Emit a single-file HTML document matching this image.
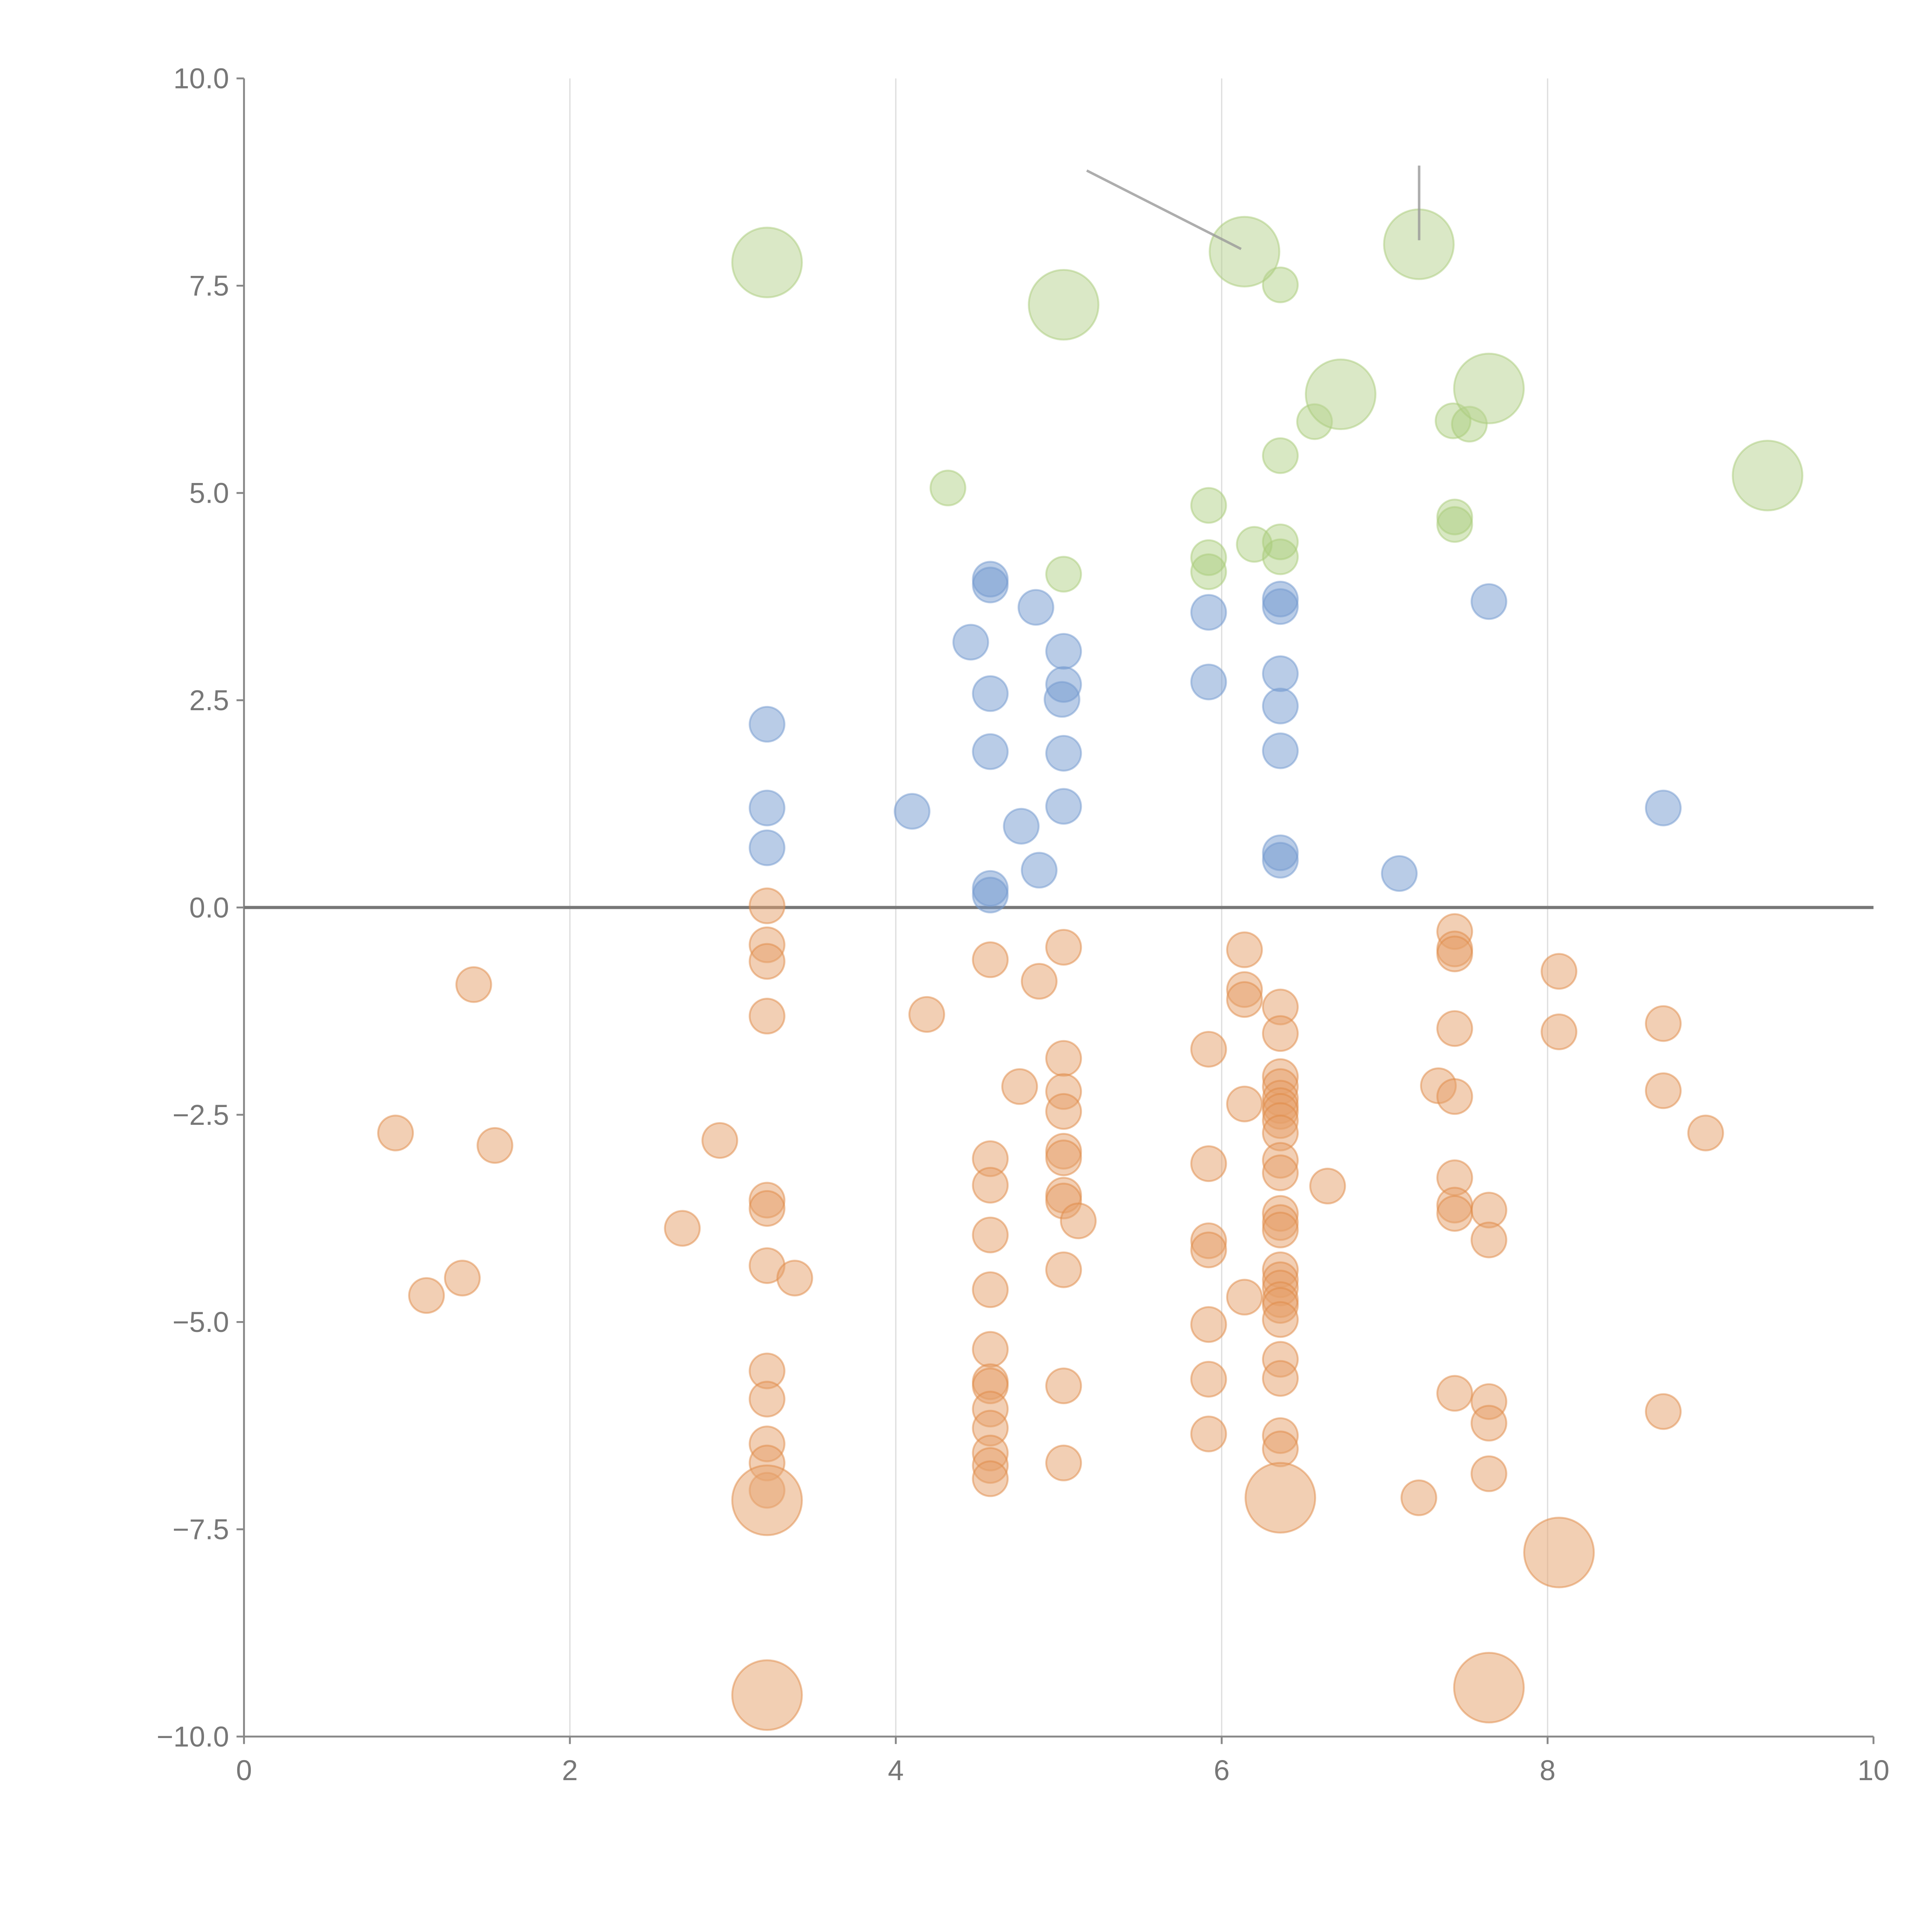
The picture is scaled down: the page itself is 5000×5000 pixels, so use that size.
<!DOCTYPE html>
<html><head><meta charset="utf-8"><style>
html,body{margin:0;padding:0;background:#fff}
svg{display:block}
text{font-family:"Liberation Sans",sans-serif;fill:#777}
</style></head><body>
<svg id="chart" width="5000" height="5000" viewBox="0 0 1552 1552" xmlns="http://www.w3.org/2000/svg">
<g id="grid"></g>
<g id="axes"></g>
<g id="marks"></g>
</svg>
<script>
const xTicks=[0,2,4,6,8,10];
const yTicks=[-10,-7.5,-5,-2.5,0,2.5,5,7.5,10];
const greenBigX=[3.21,5.03,6.14,7.21,6.73,7.64,9.35];
const greenBigY=[7.78,7.27,7.91,8.0,6.19,6.26,5.21];
const greenX=[6.36,6.57,7.42,7.52,6.36,4.32,5.92,7.43,7.43,6.2,6.36,6.36,5.92,5.92,5.03];
const greenY=[7.51,5.86,5.87,5.83,5.45,5.06,4.85,4.71,4.62,4.38,4.41,4.23,4.22,4.05,4.02];
const blueX=[4.58,4.58,4.86,4.46,5.03,5.03,5.02,4.58,4.58,5.03,5.03,4.77,4.88,4.58,4.58,4.1,3.21,3.21,3.21,5.92,5.92,6.36,6.36,6.36,6.36,6.36,6.36,6.36,7.09,7.64,8.71];
const blueY=[3.96,3.89,3.62,3.2,3.09,2.69,2.51,2.58,1.88,1.86,1.22,0.98,0.45,0.23,0.15,1.16,2.21,1.2,0.72,3.56,2.72,3.72,3.63,2.82,2.43,1.89,0.66,0.57,0.41,3.69,1.2];
const orangeX=[1.41,0.93,1.54,1.12,1.34,2.92,2.69,3.21,3.21,3.21,3.21,3.21,3.21,3.21,3.38,3.21,3.21,3.21,3.21,3.21,4.19,4.58,4.88,4.76,5.03,5.03,5.03,5.03,5.03,5.03,5.03,5.03,5.12,5.03,5.03,5.03,4.58,4.58,4.58,4.58,4.58,4.58,4.58,4.58,4.58,4.58,4.58,4.58,5.92,6.14,6.14,6.14,6.14,5.92,5.92,5.92,5.92,5.92,5.92,6.14,6.36,6.36,6.36,6.36,6.36,6.36,6.36,6.36,6.36,6.36,6.36,6.36,6.36,6.36,6.36,6.36,6.36,6.36,6.36,6.36,6.36,6.36,6.36,6.36,6.65,7.43,7.43,7.43,7.43,7.33,7.43,7.43,7.43,7.43,7.43,7.64,7.64,7.64,7.64,7.64,7.21,8.07,8.07,8.71,8.71,8.97,8.71];
const orangeY=[-0.93,-2.72,-2.87,-4.68,-4.47,-2.81,-3.87,0.02,-0.45,-0.65,-1.31,-3.53,-3.63,-4.32,-4.47,-5.59,-5.93,-6.47,-6.70,-7.03,-1.29,-0.63,-0.89,-2.16,-0.48,-1.82,-2.22,-2.46,-2.94,-3.02,-3.47,-3.54,-3.78,-4.37,-5.77,-6.70,-3.03,-3.35,-3.95,-4.61,-5.33,-5.72,-5.77,-6.05,-6.28,-6.58,-6.73,-6.89,-1.71,-0.51,-0.99,-1.11,-2.37,-3.09,-4.02,-4.13,-5.03,-5.69,-6.35,-4.70,-1.20,-1.52,-2.04,-2.16,-2.30,-2.39,-2.46,-2.57,-2.72,-3.05,-3.20,-3.69,-3.80,-3.89,-4.37,-4.49,-4.59,-4.73,-4.80,-4.97,-5.45,-5.68,-6.37,-6.53,-3.36,-0.29,-0.50,-0.56,-1.46,-2.15,-2.28,-3.26,-3.59,-3.69,-5.86,-3.65,-4.01,-5.96,-6.22,-6.83,-7.12,-0.77,-1.50,-1.40,-2.21,-2.72,-6.08];
const orangeBigX=[3.21,6.36,8.07,3.21,7.64];
const orangeBigY=[-7.15,-7.12,-7.78,-9.50,-9.41];

const NS="http://www.w3.org/2000/svg";
const X0=196,X1=1505,YT=63,YB=1395;
function sx(v){return X0+(v-0)/(10-0)*(X1-X0);}
function sy(v){return YB-(v+10)/20*(YB-YT);}
function mk(tag,attrs,parent){const e=document.createElementNS(NS,tag);for(const k in attrs)e.setAttribute(k,attrs[k]);parent.appendChild(e);return e;}
const grid=document.getElementById('grid'),axes=document.getElementById('axes'),marks=document.getElementById('marks');
xTicks.forEach(t=>{
  if(t>0&&t<10){const l=mk('line',{x1:sx(t),x2:sx(t),y1:YT,y2:YB,stroke:'#ddd','stroke-width':1},grid);
  
  }
  const tk=mk('line',{x1:sx(t),x2:sx(t),y1:YB,y2:YB+6,stroke:'#888','stroke-width':1.5},axes);
  
  
  const tx=mk('text',{x:sx(t),y:YB+35,'text-anchor':'middle','font-size':23},axes);
  tx.textContent=String(t);
  
  
});
yTicks.forEach(t=>{
  const tk=mk('line',{x1:X0-6,x2:X0,y1:sy(t),y2:sy(t),stroke:'#888','stroke-width':1.5},axes);
  
  
  const tx=mk('text',{x:X0-12,y:sy(t)+8,'text-anchor':'end','font-size':23},axes);
  tx.textContent=(t<0?'\u2212':'')+Math.abs(t).toFixed(1);
  
  
});
const ya=mk('line',{x1:X0,x2:X0,y1:YT,y2:YB,stroke:'#888','stroke-width':1.5},axes);


const xa=mk('line',{x1:X0,x2:X1,y1:YB,y2:YB,stroke:'#888','stroke-width':1.5},axes);


const zl=mk('line',{x1:X0,x2:X1,y1:sy(0),y2:sy(0),stroke:'#777','stroke-width':2.5},axes);


function series(xs,ys,r,fill,stroke,op,name){
  xs.forEach((x,i)=>{
    const c=mk('circle',{cx:sx(x),cy:sy(ys[i]),r:r,fill:fill,'fill-opacity':op,stroke:stroke,'stroke-opacity':0.5,'stroke-width':1.5},marks);
    
    
  });
}
series(greenX,greenY,14,'#a9cb7a','#a9cb7a',0.45,'green-point');
series(greenBigX,greenBigY,28,'#b5d18e','#a9cb7a',0.5,'green-bubble');
series(blueX,blueY,14,'#7399d0','#7399d0',0.5,'blue-point');
series(orangeX,orangeY,14,'#e6a06a','#e08a45',0.5,'orange-point');
series(orangeBigX,orangeBigY,28,'#e8a774','#e08a45',0.55,'orange-bubble');
const a1=mk('line',{x1:873,y1:137,x2:997,y2:200,stroke:'#999','stroke-width':2,'stroke-opacity':0.8},marks);


const a2=mk('line',{x1:1140,y1:133,x2:1140,y2:193,stroke:'#999','stroke-width':2,'stroke-opacity':0.8},marks);


</script>
</body></html>
